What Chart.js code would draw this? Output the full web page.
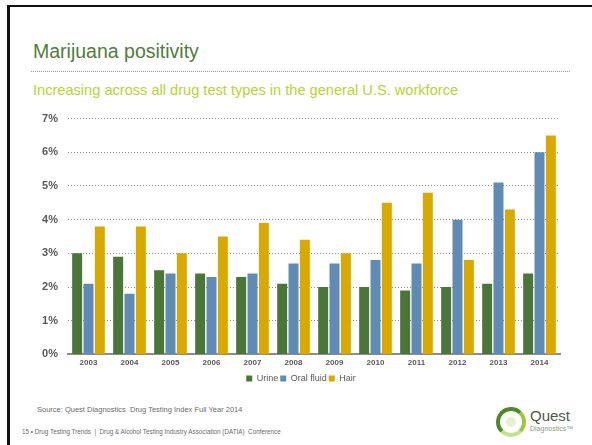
<!DOCTYPE html>
<html>
<head>
<meta charset="utf-8">
<script src="https://cdn.jsdelivr.net/npm/chart.js@4.4.1/dist/chart.umd.min.js"></script>
<style>
  body { margin: 0; width: 592px; height: 445px; position: relative; overflow: hidden; background: #fff;
         font-family: "Liberation Sans", Arial, sans-serif; }
  .frame-top { position: absolute; left: 7px; top: 5px; right: 0; height: 2px; background: #111; }
  .frame-left { position: absolute; left: 7px; top: 5px; bottom: 0; width: 3px; background: #111; }
  #title { position: absolute; left: 33px; top: 40px; font-size: 19.5px; color: #4e7d3b; white-space: nowrap; }
  .rule { position: absolute; left: 31px; top: 71px; width: 539px; border-top: 1px dotted #999; }
  #subtitle { position: absolute; left: 33px; top: 82px; font-size: 14.6px; color: #b7d334; white-space: nowrap; }
  #chart-box { position: absolute; left: 0; top: 102px; width: 592px; height: 291px; }
  #source { position: absolute; left: 37px; top: 405px; font-size: 7.5px; color: #6b6b6b; white-space: nowrap; }
  #footer { position: absolute; left: 22px; top: 428px; font-size: 6.3px; color: #6b6b6b; white-space: nowrap; }
  .logo { position: absolute; left: 494px; top: 405px; width: 86px; height: 34px; }
  .logo .mark { position: absolute; left: 2px; top: 2px; width: 22px; height: 22px; border-radius: 50%;
                border: 4px solid #4f8a2a; border-right-color: #9cc93f; border-bottom-color: #c9df8a; }
  .logo .mark::after { content: ""; position: absolute; left: 6px; top: 6px; width: 10px; height: 10px;
                border-radius: 50%; background: #e6f0d2; }
  .logo .q { position: absolute; left: 36px; top: 2px; font-size: 15px; color: #4d5a4a; }
  .logo .d { position: absolute; left: 36px; top: 20px; font-size: 7px; color: #8a9a8a; }
</style>
</head>
<body>
<div class="frame-top"></div>
<div class="frame-left"></div>
<div id="title">Marijuana positivity</div>
<div class="rule"></div>
<div id="subtitle">Increasing across all drug test types in the general U.S. workforce</div>
<div id="chart-box"><canvas id="positivity-chart"></canvas></div>
<div id="source">Source: Quest Diagnostics&nbsp; Drug Testing Index Full Year 2014</div>
<div id="footer">15 &bull; Drug Testing Trends&nbsp; |&nbsp; Drug &amp; Alcohol Testing Industry Association (DATIA)&nbsp; Conference</div>
<div class="logo">
  <div class="mark"></div>
  <div class="q">Quest</div>
  <div class="d">Diagnostics&trade;</div>
</div>

<script>
// positivity rates (%) by year and test type
const years = ['2003', '2004', '2005', '2006', '2007', '2008', '2009', '2010', '2011', '2012', '2013', '2014'];
const urine = [3.0, 2.9, 2.5, 2.4, 2.3, 2.1, 2.0, 2.0, 1.9, 2.0, 2.1, 2.4];
const oralFluid = [2.1, 1.8, 2.4, 2.3, 2.4, 2.7, 2.7, 2.8, 2.7, 4.0, 5.1, 6.0];
const hair = [3.8, 3.8, 3.0, 3.5, 3.9, 3.4, 3.0, 4.5, 4.8, 2.8, 4.3, 6.5];
const yMax = 7;

const seriesNames = ['Urine', 'Oral fluid', 'Hair'];
const seriesData = [urine, oralFluid, hair];

//colors for each test type
function getColor(name) {
    if (name === 'Urine') {
        return '#4b763a'
    }
    if (name === 'Oral fluid') {
        return '#5f8bb5'
    }
    if (name === 'Hair') {
        return '#d9a900'
    }
}

const axisGray = '#595959';

new Chart(document.querySelector('#positivity-chart').getContext('2d'), {
    type: 'bar',
    data: {
        labels: years,
        datasets: seriesNames.map((name, i) => ({
            label: name,
            data: seriesData[i],
            backgroundColor: getColor(name),
            categoryPercentage: 0.83,
            barPercentage: 0.88
        }))
    },
    options: {
        responsive: true,
        maintainAspectRatio: false,
        animation: false,
        layout: { padding: { left: 42, right: 32, top: 10, bottom: 0 } },
        scales: {
            y: {
                min: 0,
                max: yMax,
                ticks: {
                    stepSize: 1,
                    padding: 10,
                    color: axisGray,
                    font: { family: 'Liberation Sans', size: 11, weight: 'bold' },
                    callback: v => v + '%'
                },
                grid: { color: '#8c8c8c', drawTicks: false },
                border: { display: false, dash: [1, 2] },
                afterFit: scale => { scale.width = 26; }
            },
            x: {
                ticks: {
                    padding: 4,
                    color: axisGray,
                    font: { family: 'Liberation Sans', size: 8, weight: 'bold' }
                },
                grid: { display: false, drawTicks: false },
                border: { display: true, color: '#8c8c8c', width: 2 }
            }
        },
        plugins: {
            legend: {
                position: 'bottom',
                labels: {
                    boxWidth: 6,
                    boxHeight: 6,
                    padding: 2,
                    color: axisGray,
                    font: { family: 'Liberation Sans', size: 9 }
                }
            },
            tooltip: { enabled: false }
        }
    }
});
</script>
</body>
</html>
